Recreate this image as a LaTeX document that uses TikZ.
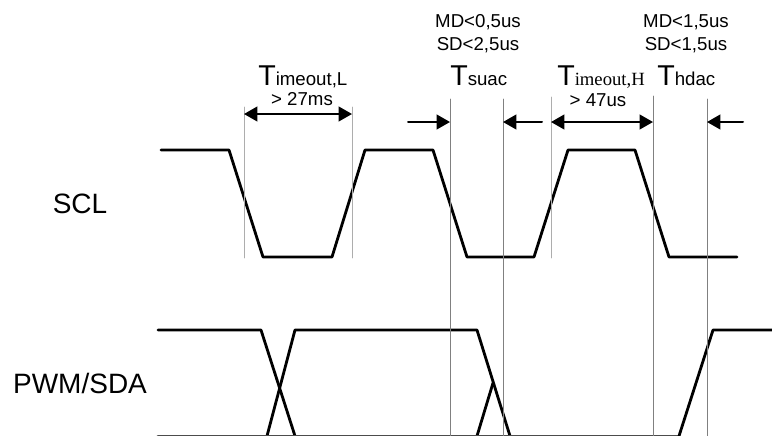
\documentclass[tikz,border=0pt]{standalone}
\usepackage{fontspec}
\setmainfont{Liberation Sans}
\newfontfamily\serifH{Liberation Serif}
\usetikzlibrary{arrows.meta}

\newcommand{\bigT}{{\fontsize{21.5}{21.5}\selectfont T}}

\begin{document}
\begin{tikzpicture}[line cap=round,line join=round,>={Triangle[length=10pt,width=11pt]},x=0.75pt,y=-0.75pt,
    sig/.style={line width=2.1pt},
    guide/.style={line width=0.6pt,color=black!50},
    guidelt/.style={line width=0.6pt,color=black!32},
    dim/.style={line width=1.5pt},
    txt/.style={font=\fontsize{14}{14}\selectfont,inner sep=0pt},
    lbl/.style={font=\fontsize{21}{21}\selectfont,inner sep=0pt,anchor=base}]
		\clip (0,0) rectangle (772,436);
		\useasboundingbox (0,0) rectangle (772,436);
		%%%%%%%%%%%%%%%%%%%%% S I G N A L S %%%%%%%%%%%%%%%%%%%%%
		\node[lbl] (scl) at (80,213) {SCL};
		\node[lbl] (sda) at (80,393) {PWM/SDA};
		%%%% SCL
		\draw [sig] (161,150) -- (229,150) -- (263,257) -- (332,257) -- (365,150) -- (433,150)
			-- (467,257) -- (534,257) -- (568,150) -- (635,150) -- (669,257) -- (737,257);
		%%%% PWM/SDA
		\draw [sig] (158,330) -- (261,330) -- (295,436);
		\draw [sig] (267,436) -- (295,330) -- (477,330) -- (510,436);
		\draw [sig] (477,436) -- (493,383);
		\draw [sig,color=black!70] (158,436) -- (679,436);
		\draw [sig] (679,436) -- (713,330) -- (772,330);
		
		%%%%%%%%%%%%%%%%%%%%% M A R K E R S %%%%%%%%%%%%%%%%%%%%%
		\coordinate (mA) at (244,107);
		\coordinate (mB) at (352,107);
		\coordinate (mC) at (450,99);
		\coordinate (mD) at (503,99);
		\coordinate (mE) at (551,97);
		\coordinate (mF) at (653,96);
		\coordinate (mG) at (707,99);
		\draw [guidelt] (mA) -- (244,258);
		\draw [guidelt] (mB) -- (352,258);
		\draw [guide] (mC) -- (450,436);
		\draw [guide] (mD) -- (503,436);
		\draw [guidelt] (mE) -- (551,258);
		\draw [guide] (mF) -- (653,436);
		\draw [guide] (mG) -- (707,436);
		
		%%%% TIMEOUT,L
		\draw [<->,dim] (244,114) -- (352,114);
		\node[txt,anchor=base west] (toutL) at (258,85) {\bigT imeout,L};
		\node[txt,anchor=base] (minL) at (302,105) {> 27ms};
		%%%% TSUAC
		\draw [->,dim] (408,122) -- (450,122);
		\draw [->,dim] (542,122) -- (503,122);
		\node[txt,anchor=base west] (tsuac) at (450,85) {\bigT suac};
		\node[txt,anchor=base] (suMD) at (478,27) {MD<0,5us};
		\node[txt,anchor=base] (suSD) at (478,50) {SD<2,5us};
		%%%% TIMEOUT,H
		\draw [<->,dim] (551,122) -- (653,122);
		\node[txt,anchor=base west] (toutH) at (557,85) {\bigT{\serifH imeout,H}};
		\node[txt,anchor=base] (minH) at (598,106) {> 47us};
		%%%% THDAC
		\draw [->,dim] (743,122) -- (707,122);
		\node[txt,anchor=base west] (thdac) at (657,85) {\bigT hdac};
		\node[txt,anchor=base] (hdMD) at (686,27) {MD<1,5us};
		\node[txt,anchor=base] (hdSD) at (686,50) {SD<1,5us};
	\end{tikzpicture}
\end{document}
